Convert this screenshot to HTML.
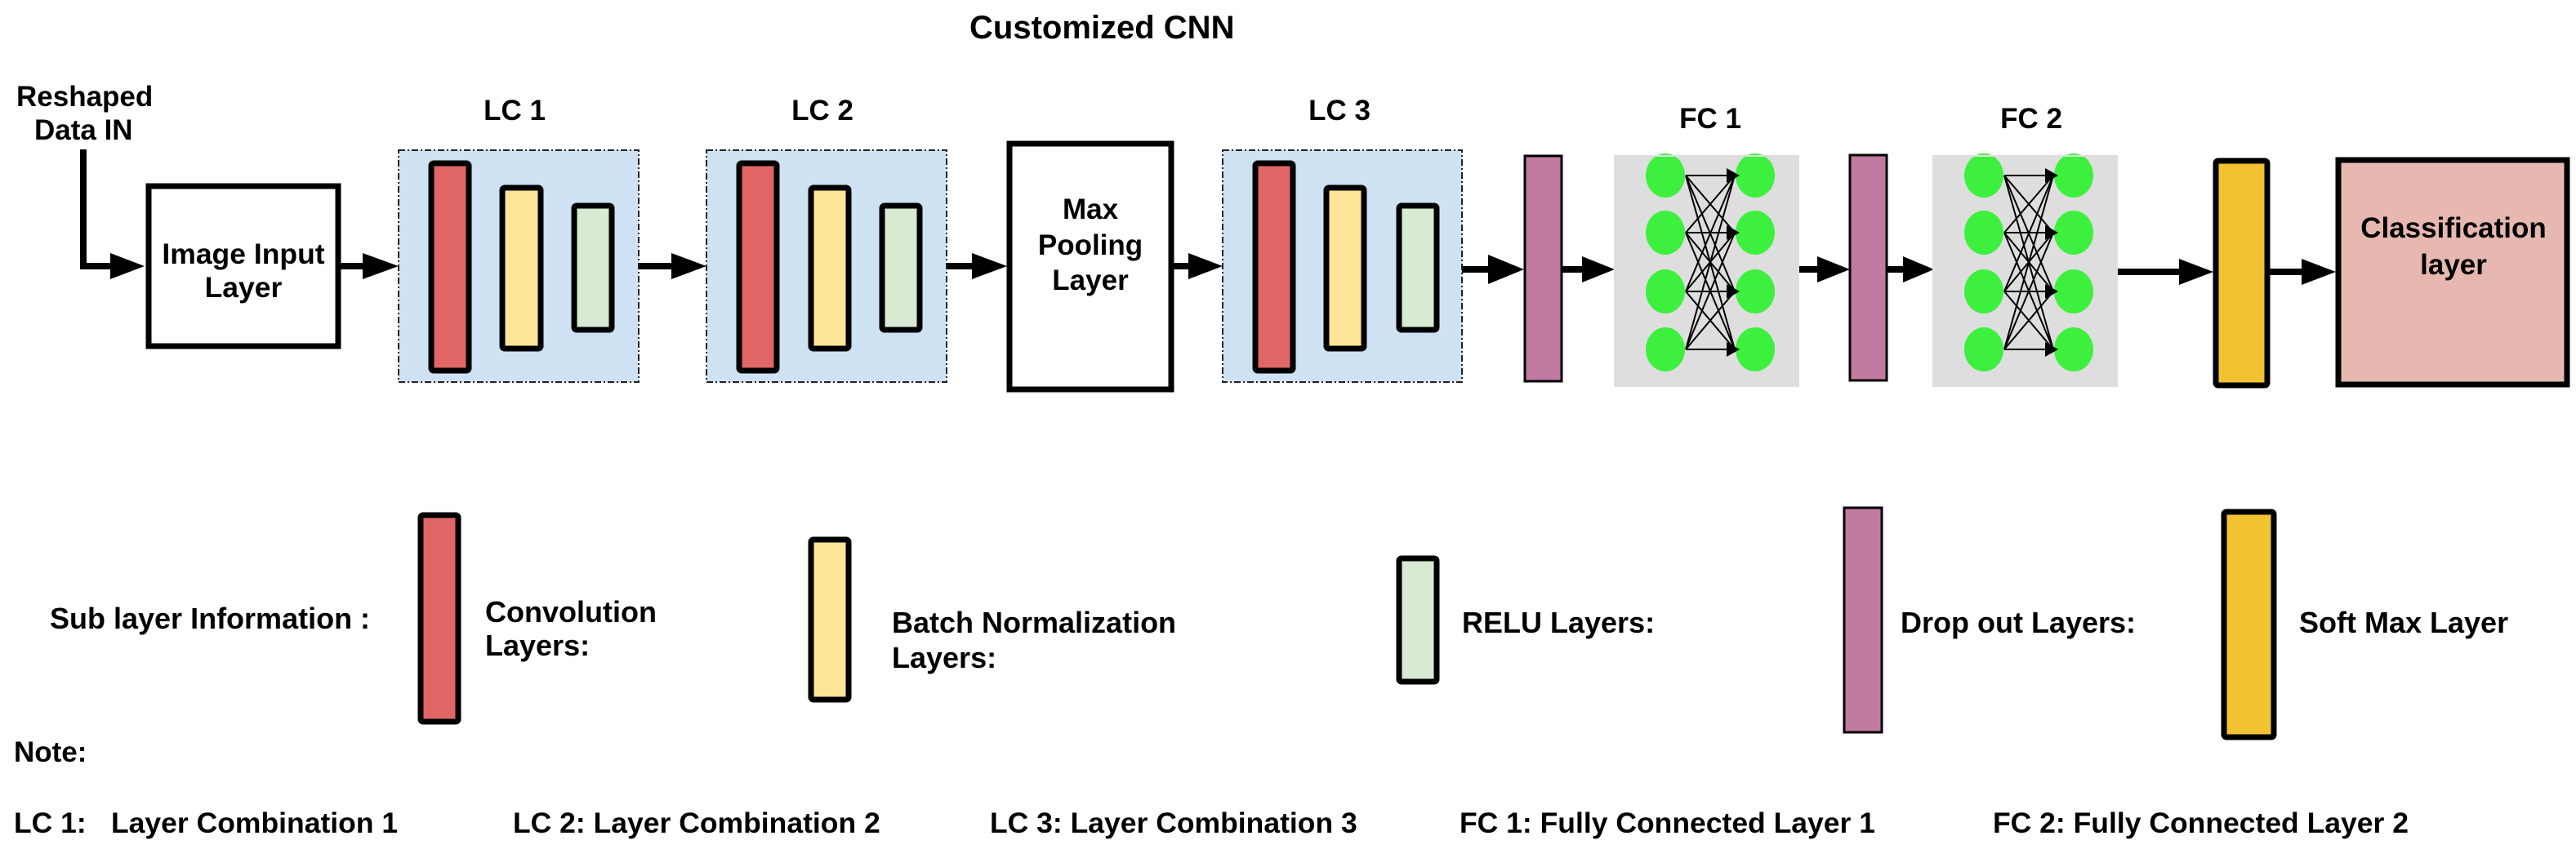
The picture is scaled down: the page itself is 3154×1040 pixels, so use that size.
<!DOCTYPE html>
<html><head><meta charset="utf-8"><style>
html,body{margin:0;padding:0;background:#fff;}
svg{display:block;}
text{font-family:"Liberation Sans",Arial,sans-serif;font-weight:bold;fill:#000;}
</style></head><body>
<svg width="3154" height="1040" viewBox="0 0 3154 1040" xmlns="http://www.w3.org/2000/svg">
<defs>
<g id="net">
  <rect x="0" y="0" width="227" height="284" fill="#dedede"/>
  <g fill="#3ef03e">
    <ellipse cx="63" cy="25" rx="24" ry="27"/><ellipse cx="63" cy="95" rx="24" ry="27"/>
    <ellipse cx="63" cy="167" rx="24" ry="27"/><ellipse cx="63" cy="238" rx="24" ry="27"/>
    <ellipse cx="173" cy="25" rx="24" ry="27"/><ellipse cx="173" cy="95" rx="24" ry="27"/>
    <ellipse cx="173" cy="167" rx="24" ry="27"/><ellipse cx="173" cy="238" rx="24" ry="27"/>
  </g>
  <rect x="0" y="0" width="227" height="2" fill="#dedede"/>
  <g stroke="#000" stroke-width="2">
    <path d="M88 25L148 25M88 25L148 95M88 25L148 167M88 25L148 238
             M88 95L148 25M88 95L148 95M88 95L148 167M88 95L148 238
             M88 167L148 25M88 167L148 95M88 167L148 167M88 167L148 238
             M88 238L148 25M88 238L148 95M88 238L148 167M88 238L148 238"/>
  </g>
  <g fill="#000">
    <path d="M138 16L154 25L138 34Z"/><path d="M138 86L154 95L138 104Z"/>
    <path d="M138 158L154 167L138 176Z"/><path d="M138 229L154 238L138 247Z"/>
  </g>
</g>
</defs>

<text x="1187" y="47" font-size="40">Customized CNN</text>

<text x="20" y="130" font-size="35">Reshaped</text>
<text x="42" y="171" font-size="35">Data IN</text>
<path d="M102 183V326H140" fill="none" stroke="#000" stroke-width="8"/>
<path d="M135 310L177 326L135 342Z"/>

<rect x="182" y="228" width="232" height="196" fill="#fff" stroke="#000" stroke-width="7"/>
<text x="298" y="323" font-size="35.5" text-anchor="middle">Image Input</text>
<text x="298" y="364" font-size="35.5" text-anchor="middle">Layer</text>

<g fill="#000">
<rect x="414" y="322" width="36" height="8"/><path d="M444 310L488 326L444 342Z"/>
<rect x="782" y="322" width="42" height="8"/><path d="M822 310L865 326L822 342Z"/>
<rect x="1159" y="322" width="34" height="8"/><path d="M1190 310L1233 326L1190 342Z"/>
<rect x="1437" y="322" width="24" height="8"/><path d="M1455 310L1497 326L1455 342Z"/>
<rect x="1790" y="326" width="36" height="8"/><path d="M1822 312L1866 330L1822 348Z"/>
<rect x="1913" y="326" width="30" height="8"/><path d="M1937 314L1977 330L1937 346Z"/>
<rect x="2203" y="326" width="28" height="8"/><path d="M2225 314L2265 330L2225 346Z"/>
<rect x="2311" y="326" width="28" height="8"/><path d="M2330 314L2368 330L2330 346Z"/>
<rect x="2590" y="329" width="80" height="8"/><path d="M2668 317L2710 333L2668 349Z"/>
<rect x="2779" y="329" width="42" height="8"/><path d="M2818 317L2860 333L2818 349Z"/>
</g>

<g fill="#cfe2f3" stroke="#222" stroke-width="2" stroke-dasharray="8,3,2,3">
<rect x="488" y="184" width="294" height="284"/>
<rect x="865" y="184" width="294" height="284"/>
<rect x="1497" y="184" width="293" height="284"/>
</g>
<text x="630" y="147" font-size="35" text-anchor="middle">LC 1</text>
<text x="1007" y="147" font-size="35" text-anchor="middle">LC 2</text>
<text x="1640" y="147" font-size="35" text-anchor="middle">LC 3</text>

<g stroke="#000" stroke-width="7">
<rect x="528" y="200" width="46" height="254" fill="#e06666" rx="3"/>
<rect x="615" y="230" width="47" height="197" fill="#ffe599" rx="3"/>
<rect x="703" y="252" width="46" height="152" fill="#d9ead3" rx="3"/>
<rect x="905" y="200" width="46" height="254" fill="#e06666" rx="3"/>
<rect x="993" y="230" width="46" height="197" fill="#ffe599" rx="3"/>
<rect x="1080" y="252" width="46" height="152" fill="#d9ead3" rx="3"/>
<rect x="1537" y="200" width="46" height="254" fill="#e06666" rx="3"/>
<rect x="1624" y="230" width="46" height="197" fill="#ffe599" rx="3"/>
<rect x="1713" y="252" width="46" height="152" fill="#d9ead3" rx="3"/>
</g>

<rect x="1236" y="176" width="198" height="301" fill="#fff" stroke="#000" stroke-width="7"/>
<text x="1335" y="268" font-size="35" text-anchor="middle">Max</text>
<text x="1335" y="312" font-size="35" text-anchor="middle">Pooling</text>
<text x="1335" y="355" font-size="35" text-anchor="middle">Layer</text>

<rect x="1867" y="191" width="45" height="276" fill="#c27ba0" stroke="#000" stroke-width="3"/>
<rect x="2265" y="190" width="45" height="276" fill="#c27ba0" stroke="#000" stroke-width="3"/>

<use href="#net" x="1976" y="190"/>
<use href="#net" x="2366" y="190"/>
<text x="2094" y="157" font-size="35" text-anchor="middle">FC 1</text>
<text x="2487" y="157" font-size="35" text-anchor="middle">FC 2</text>

<rect x="2713" y="197" width="63" height="275" fill="#f1c232" stroke="#000" stroke-width="7" rx="3"/>
<rect x="2863" y="196" width="280" height="275" fill="#e6b8af" stroke="#000" stroke-width="7"/>
<text x="3004" y="291" font-size="35" text-anchor="middle">Classification</text>
<text x="3004" y="336" font-size="35" text-anchor="middle">layer</text>

<text x="61" y="770" font-size="36">Sub layer Information :</text>
<rect x="515" y="631" width="46" height="253" fill="#e06666" stroke="#000" stroke-width="7" rx="3"/>
<text x="594" y="762" font-size="36">Convolution</text>
<text x="594" y="803" font-size="36">Layers:</text>
<rect x="993" y="661" width="46" height="196" fill="#ffe599" stroke="#000" stroke-width="7" rx="3"/>
<text x="1092" y="775" font-size="36">Batch Normalization</text>
<text x="1092" y="818" font-size="36">Layers:</text>
<rect x="1713" y="684" width="46" height="151" fill="#d9ead3" stroke="#000" stroke-width="7" rx="3"/>
<text x="1790" y="775" font-size="36">RELU Layers:</text>
<rect x="2258" y="622" width="46" height="275" fill="#c27ba0" stroke="#000" stroke-width="3"/>
<text x="2327" y="775" font-size="36">Drop out Layers:</text>
<rect x="2723" y="627" width="61" height="276" fill="#f1c232" stroke="#000" stroke-width="7" rx="3"/>
<text x="2815" y="775" font-size="36">Soft Max Layer</text>

<text x="17" y="933" font-size="35">Note:</text>
<text x="17" y="1020" font-size="35.5">LC 1:</text>
<text x="136" y="1020" font-size="35.5">Layer Combination 1</text>
<text x="628" y="1020" font-size="35.5">LC 2: Layer Combination 2</text>
<text x="1212" y="1020" font-size="35.5">LC 3: Layer Combination 3</text>
<text x="1787" y="1020" font-size="35.5">FC 1: Fully Connected Layer 1</text>
<text x="2440" y="1020" font-size="35.5">FC 2: Fully Connected Layer 2</text>
</svg>
</body></html>
